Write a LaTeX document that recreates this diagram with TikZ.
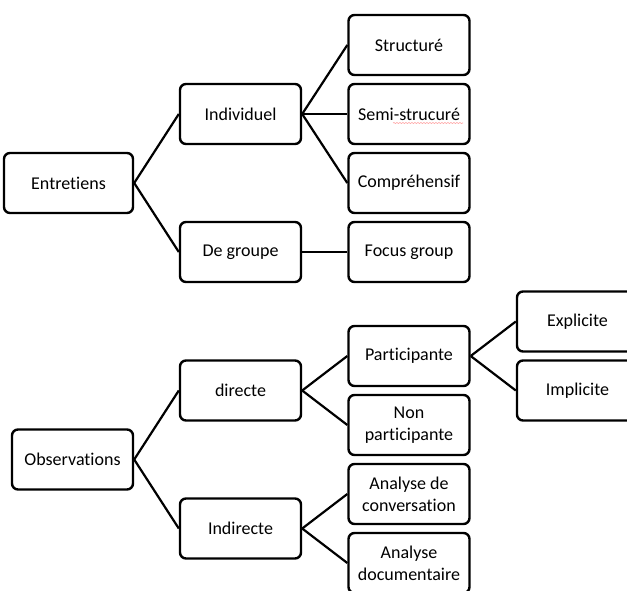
\documentclass[tikz,border=0pt]{standalone}
\usepackage{fontspec}
\setmainfont[Ligatures = NoCommon]{Carlito}
\usetikzlibrary{decorations.pathmorphing}
\begin{document}
\begin{tikzpicture}[x = 1pt, y = -1pt,
        box/.style = {draw, line width = 2.4pt, rounded corners = 6pt,
            minimum width = 121pt, minimum height = 60pt, inner sep = 1pt,
            align = center, font = \fontsize{18}{22}\selectfont},
        link/.style = {line width = 2.2pt}]
            \useasboundingbox (0, 0) rectangle (627, 590);
            \clip (0, 0) rectangle (627, 590);
            % entretiens
            \node [box, minimum width = 129pt] (entretiens) at (68.5, 183) {Entretiens};
            \node [box] (individuel) at (240.5, 114) {Individuel};
            \node [box] (groupe) at (240.5, 252) {De groupe};
            \node [box] (structure) at (409, 45) {Structuré};
            \node [box] (semi) at (409, 114) {Semi-strucuré};
            \node [box] (comprehensif) at (409, 183) {Compréhensif};
            \node [box] (focus) at (409, 252) {Focus group};
            \draw [red!40, line width = 0.6pt, decorate,
                decoration = {snake, amplitude = 0.5pt, segment length = 3pt}]
                (393, 123) -- (463, 123);
            \draw [link] (entretiens.east) -- (individuel.west);
            \draw [link] (entretiens.east) -- (groupe.west);
            \draw [link] (individuel.east) -- (structure.west);
            \draw [link] (individuel.east) -- (semi.west);
            \draw [link] (individuel.east) -- (comprehensif.west);
            \draw [link] (groupe.east) -- (focus.west);
            % observations
            \node [box] (observations) at (72.5, 459.5) {Observations};
            \node [box] (directe) at (240.5, 390.5) {directe};
            \node [box] (indirecte) at (240.5, 528.5) {Indirecte};
            \node [box] (participante) at (409, 356) {Participante};
            \node [box] (nonpart) at (409, 425) {Non\\participante};
            \node [box] (conversation) at (409, 494) {Analyse de\\conversation};
            \node [box] (documentaire) at (409, 563) {Analyse\\documentaire};
            \node [box] (explicite) at (577.5, 321.5) {Explicite};
            \node [box] (implicite) at (577.5, 390.5) {Implicite};
            \draw [link] (observations.east) -- (directe.west);
            \draw [link] (observations.east) -- (indirecte.west);
            \draw [link] (directe.east) -- (participante.west);
            \draw [link] (directe.east) -- (nonpart.west);
            \draw [link] (indirecte.east) -- (conversation.west);
            \draw [link] (indirecte.east) -- (documentaire.west);
            \draw [link] (participante.east) -- (explicite.west);
            \draw [link] (participante.east) -- (implicite.west);
        \end{tikzpicture}
\end{document}
